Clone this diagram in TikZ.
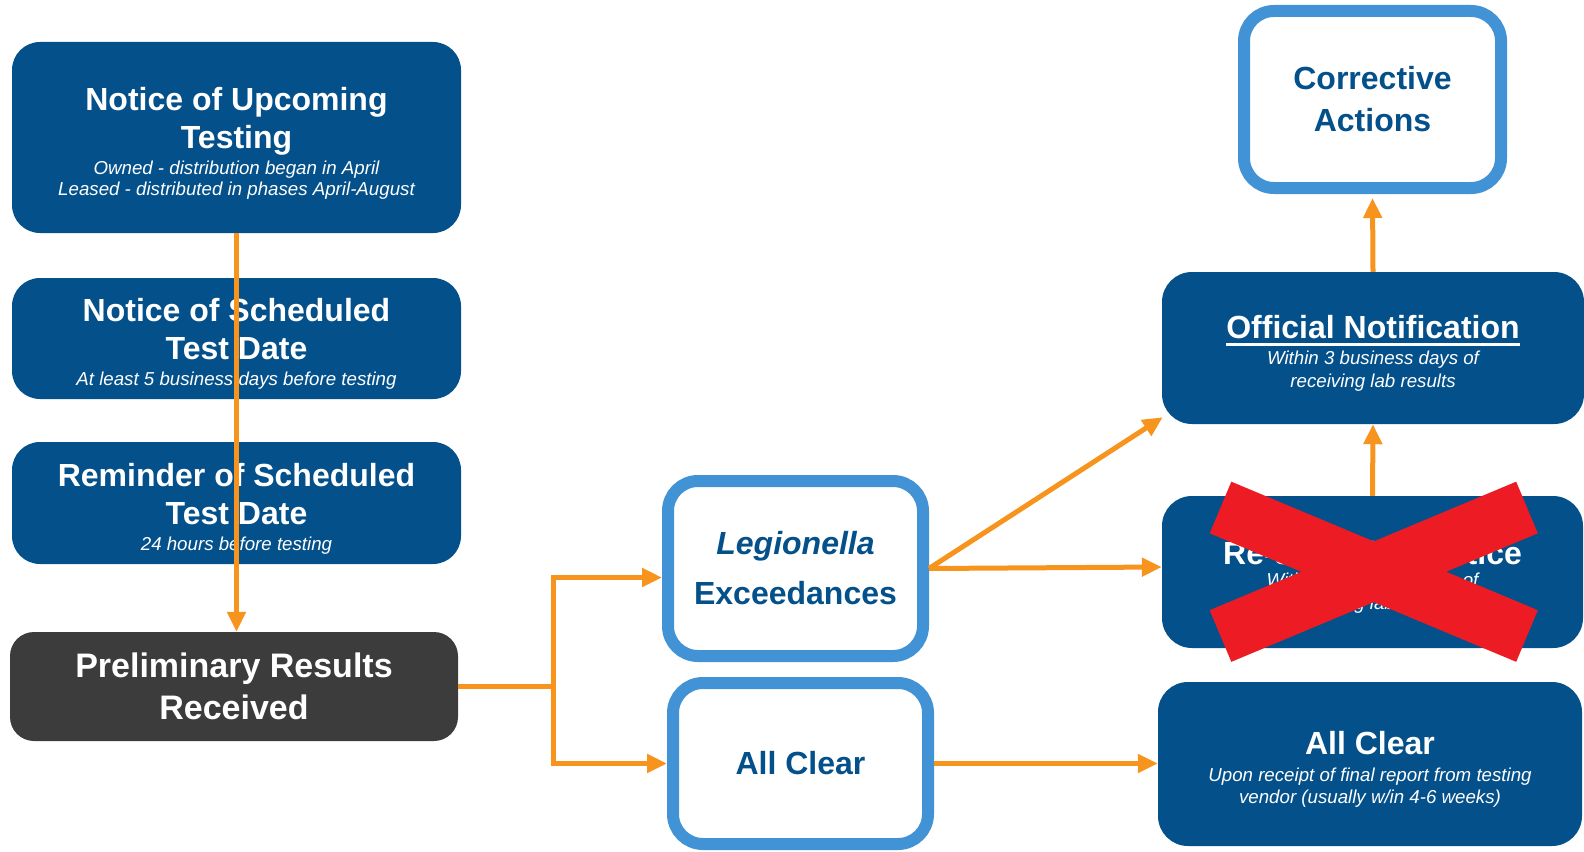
\documentclass[tikz,border=0pt]{standalone}
\usepackage{fontspec}
\setmainfont{Liberation Sans}
\usetikzlibrary{arrows.meta}

\definecolor{navy}{HTML}{03508A}
\definecolor{skyline}{HTML}{4193D5}
\definecolor{amber}{HTML}{F7941D}
\definecolor{charcoal}{HTML}{3C3C3C}
\definecolor{redx}{HTML}{ED1C24}

\newcommand\ttlfont{\bfseries\fontsize{32}{38}\selectfont}
\newcommand\prelfont{\bfseries\fontsize{34}{42}\selectfont}
\newcommand\subfont{\mdseries\itshape\fontsize{18.7}{21}\selectfont}
\newcommand\ulbar[1]{\vtop{\hbox{#1}\kern4pt\hrule height 3pt}}
\newcommand\topgap{\rule{0pt}{34pt}}

\begin{document}
\begin{tikzpicture}[
    x=1pt, y=-1pt,
    navybox/.style={fill=navy, text=white, rounded corners=28pt, align=center,
        inner sep=0pt, font=\ttlfont},
    ringbox/.style={draw=skyline, line width=12pt, fill=white, text=navy,
        rounded corners=30pt, align=center, inner sep=0pt, outer sep=6pt, font=\ttlfont},
    flow/.style={draw=amber, line width=5pt, -{Triangle[length=20pt,width=18pt]}}
]

\useasboundingbox (0,0) rectangle (1584,851);

% Left column (notices)
\node[navybox, minimum width=449pt, minimum height=191pt] (upc) at (236.5,137.5)
    {\topgap Notice of Upcoming\\Testing\\[-12pt]{\subfont Owned - distribution began in April}\\[-17pt]{\subfont Leased - distributed in phases April-August}};
\node[navybox, minimum width=449pt, minimum height=121pt] (sch) at (236.5,338.5)
    {\topgap Notice of Scheduled\\Test Date\\[-12pt]{\subfont At least 5 business days before testing}};
\node[navybox, minimum width=449pt, minimum height=122pt] (rem) at (236.5,503)
    {\topgap Reminder of Scheduled\\Test Date\\[-12pt]{\subfont 24 hours before testing}};
\node[navybox, fill=charcoal, rounded corners=24pt, font=\prelfont,
    minimum width=448pt, minimum height=109pt] (prel) at (234,686.5)
    {Preliminary Results\\Received};

% Middle column (outcomes)
\node[ringbox, minimum width=255pt, minimum height=175pt] (leg) at (795.5,568.5)
    {{\itshape Legionella}\\[12pt]Exceedances};
\node[ringbox, minimum width=255pt, minimum height=161pt] (clr) at (800.5,763.5)
    {All Clear};

% Right column (follow-up)
\node[ringbox, minimum width=257pt, minimum height=177pt] (corr) at (1372.5,99.5)
    {Corrective\\[4pt]Actions};
\node[navybox, rounded corners=30pt, minimum width=422pt, minimum height=152pt] (off) at (1373,348)
    {\topgap\ulbar{Official Notification}\\[-12pt]{\subfont Within 3 business days of}\\[-15pt]{\subfont receiving lab results}};
\node[navybox, rounded corners=30pt, minimum width=421pt, minimum height=152pt] (crs) at (1372.5,572)
    {\topgap Re-sampling Notice\\[-16pt]{\subfont Within 3 business days of}\\[-15pt]{\subfont receiving lab results}};
\node[navybox, rounded corners=30pt, minimum width=424pt, minimum height=164pt] (fin) at (1370,764)
    {\topgap All Clear\\[-11pt]{\subfont Upon receipt of final report from testing}\\[-16pt]{\subfont vendor (usually w/in 4-6 weeks)}};

% Connectors
\coordinate (split) at (553,686.5);
\draw[flow] (upc.south) -- (upc.south |- prel.north);
\draw[flow] (prel.east) -- (split) |- ([yshift=-9pt]leg.west);
\draw[flow] (split) |- (clr.west);
\draw[flow] (leg.east) -- ([shift={(1pt,7pt)}]off.south west);
\draw[flow] (leg.east) -- ([yshift=5pt]crs.west);
\draw[flow] (clr.east) -- (clr.east -| fin.west);
\draw[flow] (crs.north) -- (off.south);
\draw[flow, shorten >=4pt] (off.north) -- (corr.south);

% Cross over the dropped step
\draw[redx, line width=56pt] (1220.5,507.5) -- (1527,636);
\draw[redx, line width=56pt] (1220.5,636) -- (1527,507.5);

\end{tikzpicture}
\end{document}
